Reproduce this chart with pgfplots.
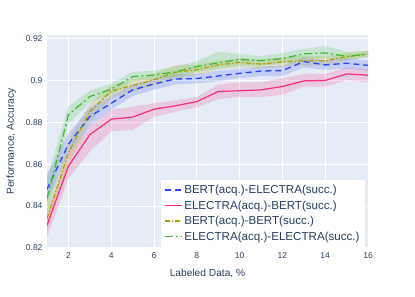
\documentclass[border=0pt]{standalone}
\usepackage{pgfplots}
\pgfplotsset{compat=1.18}
\usepackage{pgfplotstable}
\usepgfplotslibrary{fillbetween}
\usepackage{fontspec}
\setmainfont{Liberation Sans}[Color=2A3F5F]
\definecolor{bgc}{HTML}{E5ECF6}
\definecolor{cblue}{HTML}{2B45FF}
\definecolor{cred}{HTML}{FF2D7A}
\definecolor{colive}{HTML}{ABA200}
\definecolor{cgreen}{HTML}{3DBB2E}

\pgfplotstableread{
x y lo hi
1 0.848 0.842 0.855
2 0.8695 0.865 0.8745
3 0.8827 0.878 0.8870
4 0.889 0.886 0.8925
5 0.8954 0.8925 0.8980
6 0.8982 0.8955 0.9005
7 0.9006 0.8980 0.9030
8 0.9008 0.8985 0.9030
9 0.902 0.8995 0.9045
10 0.9033 0.9010 0.9055
11 0.9044 0.9020 0.9065
12 0.9046 0.9020 0.9070
13 0.9089 0.9060 0.9110
14 0.9073 0.9050 0.9095
15 0.9081 0.9055 0.9105
16 0.9071 0.9045 0.9095
}\tblue

\pgfplotstableread{
x y lo hi
1 0.8308 0.825 0.836
2 0.859 0.853 0.865
3 0.874 0.866 0.878
4 0.8814 0.8756 0.8859
5 0.8824 0.8763 0.8874
6 0.8862 0.8825 0.8890
7 0.8878 0.8850 0.8905
8 0.8898 0.8870 0.8920
9 0.8946 0.8910 0.8980
10 0.895 0.8920 0.8990
11 0.8954 0.8920 0.8990
12 0.897 0.8930 0.9010
13 0.8997 0.8970 0.9030
14 0.8999 0.8970 0.9030
15 0.903 0.9000 0.9060
16 0.9024 0.8990 0.9050
}\tred

\pgfplotstableread{
x y lo hi
1 0.834 0.828 0.840
2 0.8655 0.860 0.871
3 0.885 0.880 0.889
4 0.8948 0.8915 0.8975
5 0.8975 0.8945 0.9005
6 0.9003 0.8975 0.9030
7 0.9038 0.9005 0.9073
8 0.905 0.9025 0.9075
9 0.9073 0.9050 0.9095
10 0.9085 0.9060 0.9105
11 0.9077 0.9055 0.9100
12 0.9088 0.9065 0.9110
13 0.9093 0.9070 0.9115
14 0.9093 0.9070 0.9115
15 0.9112 0.9095 0.9130
16 0.9125 0.9110 0.9140
}\tolive

\pgfplotstableread{
x y lo hi
1 0.8435 0.836 0.853
2 0.8835 0.879 0.8875
3 0.8922 0.8895 0.8950
4 0.8957 0.8930 0.8985
5 0.9017 0.8995 0.9040
6 0.9025 0.9005 0.9045
7 0.904 0.9015 0.9065
8 0.9065 0.9040 0.9090
9 0.9083 0.9055 0.9137
10 0.9099 0.9070 0.9125
11 0.9093 0.9070 0.9115
12 0.9103 0.9080 0.9130
13 0.9126 0.9100 0.9150
14 0.913 0.9105 0.9163
15 0.9114 0.9095 0.9135
16 0.9125 0.9110 0.9140
}\tgreen

\tikzset{
  sblue/.style={draw=cblue, line width=1.3pt, dash pattern=on 6pt off 4pt},
  sred/.style={draw=cred, line width=1.2pt},
  solive/.style={draw=colive, line width=1.2pt, dash pattern=on 5pt off 2pt on 1.5pt off 2pt},
  sgreen/.style={draw=cgreen, line width=1.2pt, dash pattern=on 8pt off 3pt on 2pt off 3pt},
}

\begin{document}
\begin{tikzpicture}
\begin{axis}[
  at={(47pt,49pt)}, anchor=south west,
  width=321pt, height=213pt, scale only axis,
  xmin=1, xmax=16, ymin=0.82, ymax=0.92157,
  axis background/.style={fill=bgc},
  axis line style={draw=none},
  major tick length=0pt,
  grid=major, grid style={draw=white, line width=1pt},
  xtick={2,4,...,16},
  ytick={0.82,0.84,0.86,0.88,0.9,0.92},
  yticklabels={0.82,0.84,0.86,0.88,0.9,0.92},
  /pgf/number format/assume math mode=true,
  tick label style={font=\fontsize{8.5}{10}\selectfont},
  xticklabel style={yshift=-1pt},
  yticklabel style={xshift=-1pt},
  xlabel={Labeled Data, \%},
  ylabel={Performance, Accuracy},
  label style={font=\fontsize{10.2}{12}\selectfont},
  xlabel style={yshift=-4pt},
  ylabel style={yshift=3pt},
  legend style={at={(0.99,0.005)}, anchor=south east, draw=none, fill=white,
    font=\fontsize{11.6}{13}\selectfont,
    row sep=1.6pt, inner xsep=3pt, inner ysep=3pt,
    nodes={inner xsep=2pt}},
  legend cell align=left,
]
% bands
\addplot[draw=none, name path=blo, forget plot] table[y=lo]{\tblue};
\addplot[draw=none, name path=bhi, forget plot] table[y=hi]{\tblue};
\addplot[fill=cblue, fill opacity=0.18, draw=none, forget plot] fill between[of=blo and bhi];
\addplot[draw=none, name path=rlo, forget plot] table[y=lo]{\tred};
\addplot[draw=none, name path=rhi, forget plot] table[y=hi]{\tred};
\addplot[fill=cred, fill opacity=0.18, draw=none, forget plot] fill between[of=rlo and rhi];
\addplot[draw=none, name path=olo, forget plot] table[y=lo]{\tolive};
\addplot[draw=none, name path=ohi, forget plot] table[y=hi]{\tolive};
\addplot[fill=colive, fill opacity=0.18, draw=none, forget plot] fill between[of=olo and ohi];
\addplot[draw=none, name path=glo, forget plot] table[y=lo]{\tgreen};
\addplot[draw=none, name path=ghi, forget plot] table[y=hi]{\tgreen};
\addplot[fill=cgreen, fill opacity=0.18, draw=none, forget plot] fill between[of=glo and ghi];
% lines
\addplot[sblue, mark=none,
  legend image code/.code={\draw[sblue, line width=1.5pt] (0pt,0.5pt) -- (17pt,0.5pt);}] table[y=y]{\tblue};
\addlegendentry{BERT(acq.)-ELECTRA(succ.)}
\addplot[sred, mark=none,
  legend image code/.code={\draw[sred, line width=1.5pt] (0pt,0.5pt) -- (17pt,0.5pt);}] table[y=y]{\tred};
\addlegendentry{ELECTRA(acq.)-BERT(succ.)}
\addplot[solive, mark=none,
  legend image code/.code={\draw[solive, line width=1.5pt] (0pt,0.5pt) -- (17pt,0.5pt);}] table[y=y]{\tolive};
\addlegendentry{BERT(acq.)-BERT(succ.)}
\addplot[sgreen, mark=none,
  legend image code/.code={\draw[sgreen, line width=1.5pt] (0pt,0.5pt) -- (17pt,0.5pt);}] table[y=y]{\tgreen};
\addlegendentry{ELECTRA(acq.)-ELECTRA(succ.)}
\end{axis}
\pgfresetboundingbox
\path[use as bounding box] (0,0) rectangle (415pt,297pt);
\end{tikzpicture}
\end{document}
